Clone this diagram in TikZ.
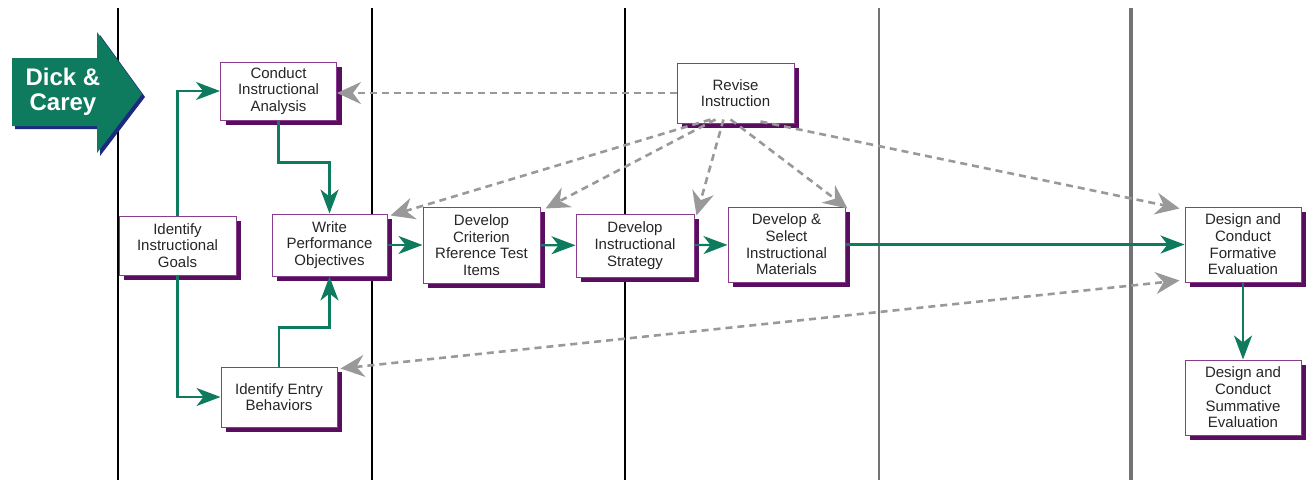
\documentclass[tikz,border=0pt]{standalone}
\usepackage{fontspec}
\setmainfont{Liberation Sans}
\usetikzlibrary{arrows.meta,shadows}
\definecolor{flowgreen}{HTML}{0E7A5E}
\definecolor{boxline}{HTML}{8A3C8C}
\definecolor{boxshade}{HTML}{5A0E60}
\definecolor{revgray}{HTML}{999999}
\definecolor{navyshade}{HTML}{1B2A80}
\begin{document}
\begin{tikzpicture}[x=1pt,y=-1pt,
    stagebox/.style={draw=boxline,line width=1pt,fill=white,align=center,
        text=black!85,font=\fontsize{15}{16.7}\selectfont,inner sep=0pt,
        drop shadow={shadow xshift=5pt,shadow yshift=-5pt,fill=boxshade,opacity=1}},
    flow/.style={draw=flowgreen,line width=2.2pt,-{Stealth[length=24pt,width=18pt,inset=7pt]}},
    revise/.style={draw=revgray,line width=2.6pt,dash pattern=on 7pt off 5pt,
        -{Stealth[length=24pt,width=22pt,inset=8pt]}},
    lane/.style={line width=2pt}]
    \useasboundingbox (0,0) rectangle (1308,480);
    % lanes
    \draw[lane,line width=1.3pt] (118,8) -- (118,480);
    \draw[lane,line width=2.5pt] (372,8) -- (372,480);
    \draw[lane,line width=2.5pt] (625,8) -- (625,480);
    \draw[lane,black!55] (879,8) -- (879,480);
    \draw[lane,black!55,line width=3.5pt] (1131,8) -- (1131,480);
    % title arrow
    \fill[navyshade] (15,61) -- (100,61) -- (100,35) -- (145,97) -- (100,156) -- (100,129) -- (15,129) -- cycle;
    \fill[flowgreen] (12,58) -- (97,58) -- (97,32) -- (142,94) -- (97,153) -- (97,126) -- (12,126) -- cycle;
    \node[text=white,font=\fontsize{24}{25}\selectfont\bfseries,align=center] (title) at (63,92) {Dick \&\\Carey};
    % stages
    \node[stagebox,minimum width=116pt,minimum height=58pt] (conduct)    at (278.5,91)  {Conduct\\Instructional\\Analysis};
    \node[stagebox,minimum width=117pt,minimum height=60pt] (revisebox)  at (735.5,93)  {Revise\\Instruction};
    \node[stagebox,minimum width=117pt,minimum height=59pt] (goals)      at (177.5,245.5) {Identify\\Instructional\\Goals};
    \node[stagebox,minimum width=115pt,minimum height=62pt] (objectives) at (329.5,245) {Write\\Performance\\Objectives};
    \node[stagebox,minimum width=117pt,minimum height=76pt] (criterion)  at (481.5,245) {Develop\\Criterion\\Rference Test\\Items};
    \node[stagebox,minimum width=118pt,minimum height=63pt] (strategy)   at (635,245.5) {Develop\\Instructional\\Strategy};
    \node[stagebox,minimum width=117pt,minimum height=75pt] (materials)  at (786.5,244.5) {Develop \&\\Select\\Instructional\\Materials};
    \node[stagebox,minimum width=116pt,minimum height=60pt] (entry)      at (279,397)   {Identify Entry\\Behaviors};
    \node[stagebox,minimum width=116pt,minimum height=75pt] (formative)  at (1243,244.5) {Design and\\Conduct\\Formative\\Evaluation};
    \node[stagebox,minimum width=116pt,minimum height=75pt] (summative)  at (1243,397.5) {Design and\\Conduct\\Summative\\Evaluation};
    % main flow
    \draw[flow] (goals.north) |- (conduct.west);
    \draw[flow] (goals.south) |- (entry.west);
    \draw[flow] (conduct.south) -- ++(0,42) -| (objectives.north);
    \draw[flow] (entry.north) -- ++(0,-39) -| (objectives.south);
    \draw[flow] (objectives) -- (criterion);
    \draw[flow] (criterion) -- (strategy);
    \draw[flow] (strategy) -- (materials);
    \draw[flow] (materials) -- (formative);
    \draw[flow] (formative) -- (summative);
    % revisions
    \draw[revise] (revisebox.west) -- (revisebox.west -| conduct.east);
    \draw[revise] ([xshift=-25pt,yshift=4pt]revisebox.south) -- ([xshift=3pt,yshift=-2pt]objectives.north east);
    \draw[revise] ([xshift=-20pt,yshift=4pt]revisebox.south) -- ([xshift=5pt,yshift=-2pt]criterion.north east);
    \draw[revise] ([xshift=-12pt,yshift=4pt]revisebox.south) -- ([xshift=2pt,yshift=-2pt]strategy.north east);
    \draw[revise] ([xshift=-5pt,yshift=4pt]revisebox.south) -- ([xshift=2pt,yshift=-2pt]materials.north east);
    \draw[revise] ([xshift=25pt,yshift=2pt]revisebox.south) -- ([xshift=-5pt,yshift=-2pt]formative.north west);
    \draw[revise,{Stealth[length=24pt,width=22pt,inset=8pt]}-{Stealth[length=24pt,width=22pt,inset=8pt]}]
        ([xshift=3pt,yshift=-2pt]entry.north east) -- ([xshift=-5pt,yshift=2pt]formative.south west);
\end{tikzpicture}
\end{document}
